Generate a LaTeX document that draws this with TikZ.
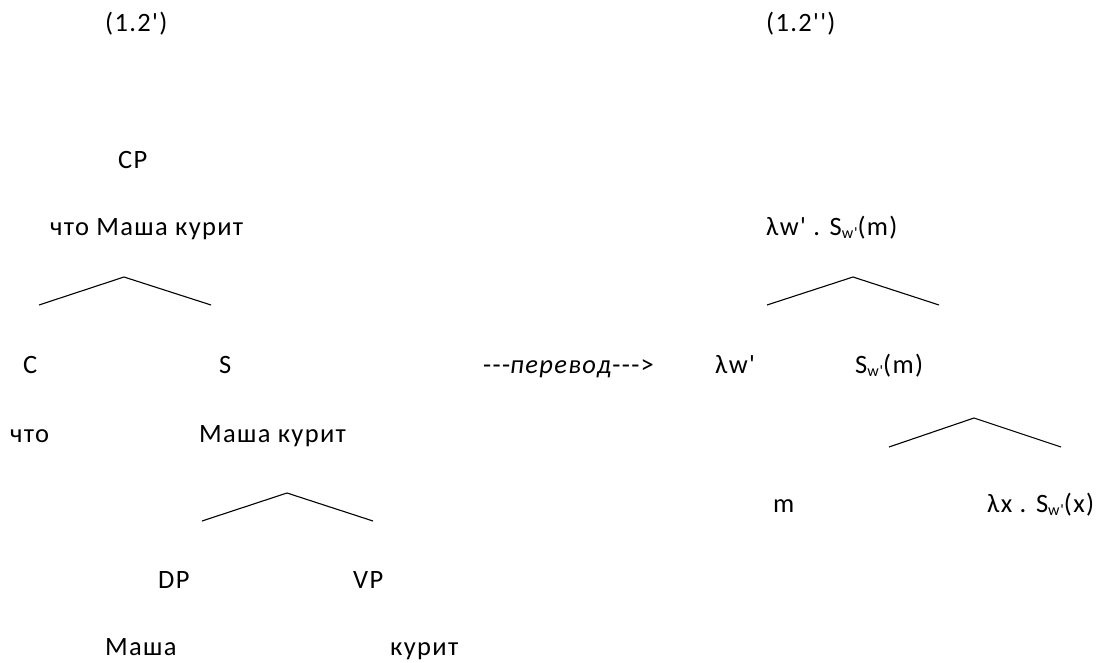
\documentclass[tikz,border=0pt]{standalone}
\usepackage{fontspec}
% plain font family: keeps straight quotes and runs of hyphens as typed
\newfontfamily\carl{Carlito}[LetterSpace=5]
\newcommand\subw{\raisebox{-0.12em}{\fontsize{16}{16}\selectfont w'}}
\begin{document}
\begin{tikzpicture}[x=1pt,y=-1pt,
  lbl/.style={anchor=base west, inner sep=0pt, font=\carl\fontsize{26.5}{30}\selectfont},
  branch/.style={line width=1.1pt, line join=miter}]
\useasboundingbox (0,0) rectangle (1099,663);

% example numbers
\node[lbl] (exA) at (105,32) {(1.2')};
\node[lbl] (exB) at (766,32) {(1.2'')};

% syntactic tree
\node[lbl] (cp)    at (118,168) {CP};
\node[lbl] (cpt)   at (50,235)  {что Маша курит};
\node[lbl] (c)     at (23,373)  {C};
\node[lbl] (s)     at (219,373) {S};
\node[lbl] (ct)    at (10,442)  {что};
\node[lbl] (st)    at (199,442) {Маша курит};
\node[lbl] (dp)    at (158,588) {DP};
\node[lbl] (vp)    at (353,588) {VP};
\node[lbl] (dpt)   at (105,655) {Маша};
\node[lbl] (vpt)   at (390,655) {курит};

\coordinate (t1l) at (39,305);
\coordinate (t1m) at (124,277);
\coordinate (t1r) at (211,305);
\draw[branch] (t1l) -- (t1m) -- (t1r);
\coordinate (t2l) at (202,521);
\coordinate (t2m) at (287,493);
\coordinate (t2r) at (373,521);
\draw[branch] (t2l) -- (t2m) -- (t2r);

% translation marker
\node[lbl] (tr) at (483,373) {---\textit{перевод}--->};

% semantic tree
\node[lbl] (top)   at (766,235) {λw' . S\subw(m)};
\node[lbl] (lam)   at (715,373) {λw'};
\node[lbl] (sm)    at (855,373) {S\subw(m)};
\node[lbl] (m)     at (773,512) {m};
\node[lbl] (lx)    at (987,512) {λx . S\subw(x)};

\coordinate (t3l) at (767,305);
\coordinate (t3m) at (853,277);
\coordinate (t3r) at (939,305);
\draw[branch] (t3l) -- (t3m) -- (t3r);
\coordinate (t4l) at (889,447);
\coordinate (t4m) at (974,418);
\coordinate (t4r) at (1061,447);
\draw[branch] (t4l) -- (t4m) -- (t4r);
\end{tikzpicture}
\end{document}
